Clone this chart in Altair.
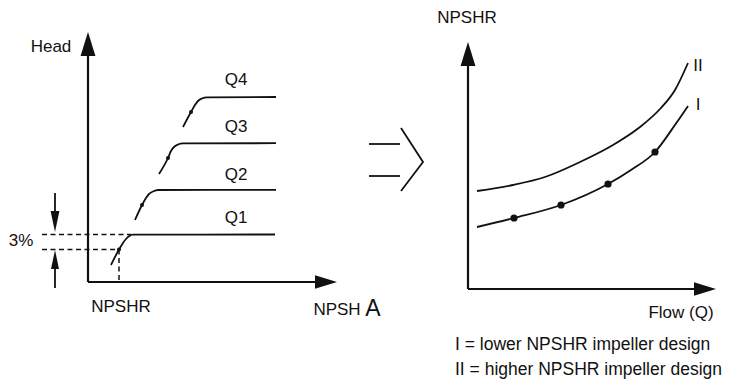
import altair as alt
import pandas as pd
import math

# ---------------- data (panel units measured from each panel's axis origin) ----------------
# Left panel: Head vs NPSH available, one curve per flow rate
q_labels = ["Q1", "Q2", "Q3", "Q4"]
q_npsh = [
    [23, 31, 35, 38, 41, 45, 187],
    [47, 54, 58, 61, 65, 70, 188],
    [71, 80, 83, 86, 90, 95, 188],
    [95, 103, 107, 110, 114, 119, 188],
]
q_head = [
    [17, 32.5, 39, 43, 45.8, 47.3, 47.5],
    [62, 77, 84, 88, 90.5, 92, 92.2],
    [108, 124, 131, 135, 137.5, 138.6, 138.8],
    [155, 170, 177, 181, 183.5, 184.7, 185],
]
# 3% head-drop points (NPSHR for each flow)
drop_npsh = [31, 54, 80, 103]
drop_head = [32.5, 77, 124, 170]
q_label_npsh = 148
q_label_head = [64, 107, 155, 202]
head_full = 47.5      # head level of Q1 plateau
head_3pct = 32.5      # head after 3% drop

# Right panel: NPSHR vs Flow for two impeller designs
flow_I = [9, 46, 93, 140, 163, 187, 209, 220]
npshr_I = [62, 71, 84, 105, 119, 137, 167, 183]
flow_II = [9, 45, 77, 112, 145, 172, 192, 207, 220]
npshr_II = [98, 104, 112, 127, 144, 162, 180, 199, 226]
design_points_flow = [46, 93, 140, 187]
design_points_npshr = [71, 84, 105, 137]

legend_lines = ["I = lower NPSHR impeller design", "II = higher NPSHR impeller design"]

# ---------------- layout frame (page pixels) ----------------
LEFT = (88, 282)
RIGHT = (468, 289)
AX_W = 2.2
CURVE_W = 1.8
INK = "#111111"
FONT = "Liberation Sans"


def L(x, y):
    return LEFT[0] + x, LEFT[1] - y


def R(x, y):
    return RIGHT[0] + x, RIGHT[1] - y


line_rows = []


def add_line(kind, group, pts):
    for i, (x, y) in enumerate(pts):
        line_rows.append({"kind": kind, "g": group, "o": i, "x": x, "y": y})


# performance curves
for lab, xs, ys in zip(q_labels, q_npsh, q_head):
    add_line("curve", lab, [L(a, b) for a, b in zip(xs, ys)])
add_line("curve", "I", [R(a, b) for a, b in zip(flow_I, npshr_I)])
add_line("curve", "II", [R(a, b) for a, b in zip(flow_II, npshr_II)])

# axes
add_line("axis", "ly", [L(0, 0), L(0, 230)])
add_line("axis", "lx", [L(0, 0), L(232, 0)])
add_line("axis", "ry", [R(0, 0), R(0, 228)])
add_line("axis", "rx", [R(0, 0), R(230, 0)])

# 3% dimension lines
add_line("dash", "d1", [L(-46, head_full), L(43, head_full)])
add_line("dash", "d2", [L(-46, head_3pct), L(drop_npsh[0], head_3pct)])
add_line("dash", "d3", [L(drop_npsh[0], head_3pct), L(drop_npsh[0], 0)])
add_line("thin", "s1", [L(-33, 89), L(-33, 60)])
add_line("thin", "s2", [L(-33, -6), L(-33, 20)])

# "implies" symbol between panels
add_line("thin", "e1", [(369, 144), (400, 144)])
add_line("thin", "e2", [(369, 176), (400, 176)])
add_line("thin", "chev", [(401, 128), (423, 162), (401, 191)])

lines = pd.DataFrame(line_rows)

# arrow heads: tip position, direction angle, length
arrow_rows = []


def add_arrow(kind, tip, angle, length):
    dx = math.sin(math.radians(angle))
    dy = -math.cos(math.radians(angle))
    arrow_rows.append({"kind": kind, "x": tip[0] - dx * length / 2,
                       "y": tip[1] - dy * length / 2, "a": angle, "s": length ** 2})


add_arrow("big", L(0, 250), 0, 24)
add_arrow("big", L(249, 0), 90, 22)
add_arrow("big", R(0, 247), 0, 24)
add_arrow("big", R(248, 0), 90, 22)
add_arrow("small", L(-33, 50), 180, 21)
add_arrow("small", L(-33, 32), 0, 19)
arrows = pd.DataFrame(arrow_rows)

dots = pd.DataFrame(
    [dict(zip(("x", "y"), L(a, b)), s=16) for a, b in zip(drop_npsh, drop_head)]
    + [dict(zip(("x", "y"), R(a, b)), s=52) for a, b in zip(design_points_flow, design_points_npshr)]
)

text_rows = []


def add_text(label, pos, size=17):
    text_rows.append({"label": label, "x": pos[0], "y": pos[1], "size": size})


add_text("Head", L(-37, 235))
add_text("3%", L(-67, 41))
add_text("NPSHR", L(33, -25))
add_text("NPSH", L(249, -28))
for lab, h in zip(q_labels, q_label_head):
    add_text(lab, L(q_label_npsh, h))
add_text("NPSHR", R(-1, 271))
add_text("Flow (Q)", R(213, -24))
add_text("II", R(230, 223))
add_text("I", R(230, 184))
texts = pd.DataFrame(text_rows)
legend = pd.DataFrame([
    {"label": legend_lines[0], "x": R(-13, 0)[0], "y": R(0, -56)[1]},
    {"label": legend_lines[1], "x": R(-13, 0)[0], "y": R(0, -81)[1]},
])
big_a = pd.DataFrame([{"label": "A", "x": L(285, 0)[0], "y": L(0, -27)[1]}])

# ---------------- chart ----------------
X = alt.X("x:Q", scale=alt.Scale(domain=[8, 730], nice=False, zero=False), axis=None)
Y = alt.Y("y:Q", scale=alt.Scale(domain=[8, 381], nice=False, zero=False, reverse=True), axis=None)

base = alt.Chart(lines)

curves = base.transform_filter("datum.kind == 'curve'").mark_line(
    color=INK, strokeWidth=CURVE_W, interpolate="monotone", clip=False
).encode(x=X, y=Y, detail="g:N", order="o:Q")

axes = base.transform_filter("datum.kind == 'axis'").mark_line(
    color=INK, strokeWidth=AX_W, clip=False
).encode(x=X, y=Y, detail="g:N", order="o:Q")

dashes = base.transform_filter("datum.kind == 'dash'").mark_line(
    color=INK, strokeWidth=1.5, strokeDash=[5, 3.5], clip=False
).encode(x=X, y=Y, detail="g:N", order="o:Q")

thin = base.transform_filter("datum.kind == 'thin'").mark_line(
    color=INK, strokeWidth=1.8, clip=False
).encode(x=X, y=Y, detail="g:N", order="o:Q")

big_heads = alt.Chart(arrows).transform_filter("datum.kind == 'big'").mark_point(
    shape="M0,-1L0.62,1L-0.62,1Z", filled=True, color=INK, opacity=1, clip=False
).encode(x=X, y=Y, angle=alt.Angle("a:Q", scale=None), size=alt.Size("s:Q", scale=None))

small_heads = alt.Chart(arrows).transform_filter("datum.kind == 'small'").mark_point(
    shape="M0,-1L0.42,1L-0.42,1Z", filled=True, color=INK, opacity=1, clip=False
).encode(x=X, y=Y, angle=alt.Angle("a:Q", scale=None), size=alt.Size("s:Q", scale=None))

dot_layer = alt.Chart(dots).mark_circle(color=INK, opacity=1, clip=False).encode(
    x=X, y=Y, size=alt.Size("s:Q", scale=None)
)

text_layer = alt.Chart(texts).mark_text(
    font=FONT, color=INK, baseline="middle", align="center"
).encode(x=X, y=Y, text="label:N", size=alt.Size("size:Q", scale=None))

a_layer = alt.Chart(big_a).mark_text(
    font=FONT, color=INK, baseline="middle", align="center", fontSize=23
).encode(x=X, y=Y, text="label:N")

legend_layer = alt.Chart(legend).mark_text(
    font=FONT, color=INK, baseline="middle", align="left", fontSize=17.5
).encode(x=X, y=Y, text="label:N")

chart = alt.layer(
    axes, curves, dashes, thin, big_heads, small_heads, dot_layer, text_layer, a_layer, legend_layer
).properties(
    width=722, height=373, padding=0, background="white",
    autosize=alt.AutoSizeParams(type="none"),
).configure_view(stroke=None)

chart.save("out.html", embed_options={"renderer": "svg", "actions": False})
